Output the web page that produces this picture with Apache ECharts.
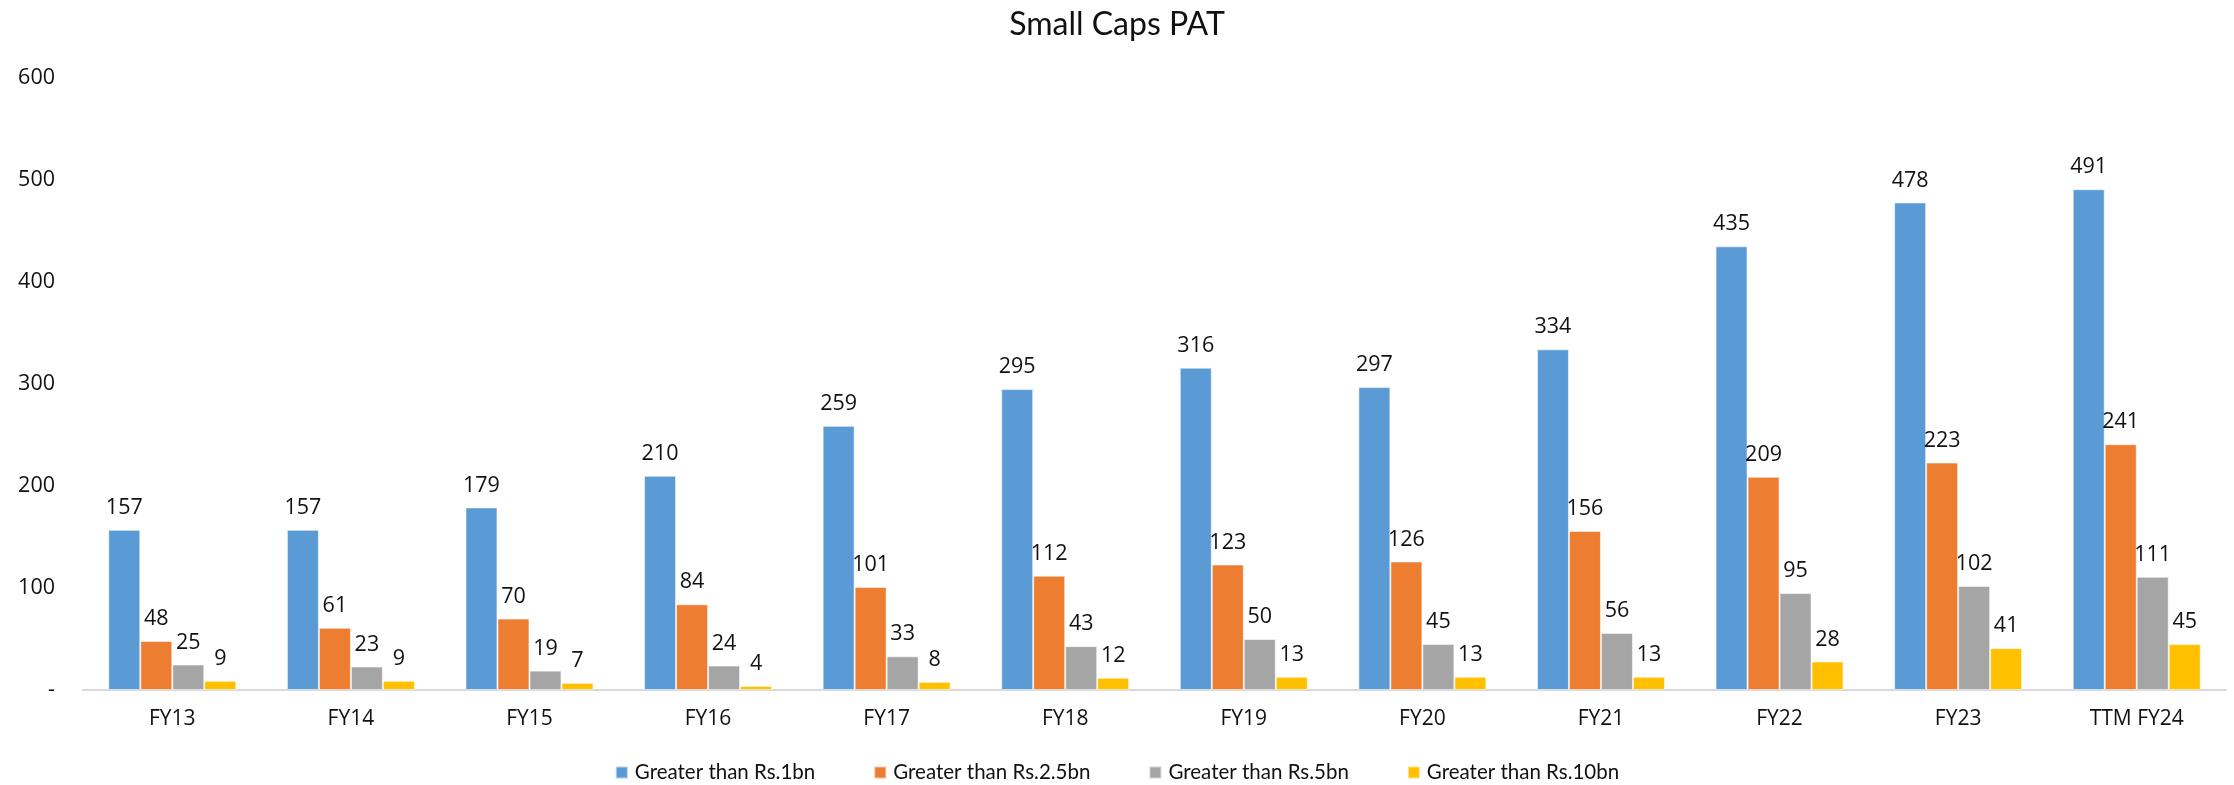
<!DOCTYPE html>
<html>
<head>
<meta charset="utf-8">
<title>Small Caps PAT</title>
<script src="https://cdn.jsdelivr.net/npm/echarts@6/dist/echarts.min.js"></script>
<style>
  html, body { margin: 0; padding: 0; background: #fff; }
  #chart { width: 2234px; height: 785px; }
</style>
</head>
<body>
<div id="chart"></div>
<script>
// Count of small-cap companies by PAT threshold, per fiscal year
const categories = ['FY13', 'FY14', 'FY15', 'FY16', 'FY17', 'FY18', 'FY19', 'FY20', 'FY21', 'FY22', 'FY23', 'TTM FY24'];
const seriesNames = ['Greater than Rs.1bn', 'Greater than Rs.2.5bn', 'Greater than Rs.5bn', 'Greater than Rs.10bn'];
const above1bn   = [157, 157, 179, 210, 259, 295, 316, 297, 334, 435, 478, 491];
const above2_5bn = [48, 61, 70, 84, 101, 112, 123, 126, 156, 209, 223, 241];
const above5bn   = [25, 23, 19, 24, 33, 43, 50, 45, 56, 95, 102, 111];
const above10bn  = [9, 9, 7, 4, 8, 12, 13, 13, 13, 28, 41, 45];

const colors = ['#5B9BD5', '#ED7D31', '#A5A5A5', '#FFC000'];
const TEXT_FONT = 'Lato, "Open Sans", sans-serif';
const NUM_FONT = '"Open Sans", "Noto Sans", sans-serif';

function barSeries(name, data, color) {
  return {
    name: name,
    type: 'bar',
    data: data,
    barWidth: 32,
    barGap: '0%',
    itemStyle: { color: color, borderColor: 'rgba(255,255,255,0.55)', borderWidth: 1 },
    label: {
      show: true,
      position: 'top',
      distance: 11,
      color: '#111',
      fontFamily: NUM_FONT,
      fontSize: 21.5
    }
  };
}

const chart = echarts.init(document.getElementById('chart'), null, { renderer: 'canvas' });
chart.setOption({
  backgroundColor: '#fff',
  animation: false,
  color: colors,
  title: {
    text: 'Small Caps PAT',
    left: 'center',
    top: 4,
    textStyle: { fontFamily: TEXT_FONT, fontSize: 32, fontWeight: 'normal', color: '#111' }
  },
  legend: {
    data: seriesNames,
    left: 'center',
    top: 757,
    itemWidth: 12,
    itemHeight: 12,
    itemGap: 58,
    icon: 'rect',
    textStyle: { fontFamily: TEXT_FONT, fontSize: 20.5, color: '#111', padding: [0, 0, 0, 2] }
  },
  grid: { left: 83, right: 8, top: 78, bottom: 95, containLabel: false },
  xAxis: {
    type: 'category',
    data: categories,
    axisLine: { lineStyle: { color: '#D9D9D9', width: 2 } },
    axisTick: { show: false },
    axisLabel: { fontFamily: NUM_FONT, fontSize: 21, color: '#111', margin: 19 }
  },
  yAxis: {
    type: 'value',
    min: 0,
    max: 600,
    interval: 100,
    splitLine: { show: false },
    axisLine: { show: false },
    axisTick: { show: false },
    axisLabel: {
      fontFamily: NUM_FONT,
      fontSize: 21.5,
      color: '#111',
      margin: 28,
      formatter: v => (v === 0 ? '-' : String(v))
    }
  },
  series: [
    barSeries(seriesNames[0], above1bn, colors[0]),
    barSeries(seriesNames[1], above2_5bn, colors[1]),
    barSeries(seriesNames[2], above5bn, colors[2]),
    barSeries(seriesNames[3], above10bn, colors[3])
  ]
});
</script>
</body>
</html>
